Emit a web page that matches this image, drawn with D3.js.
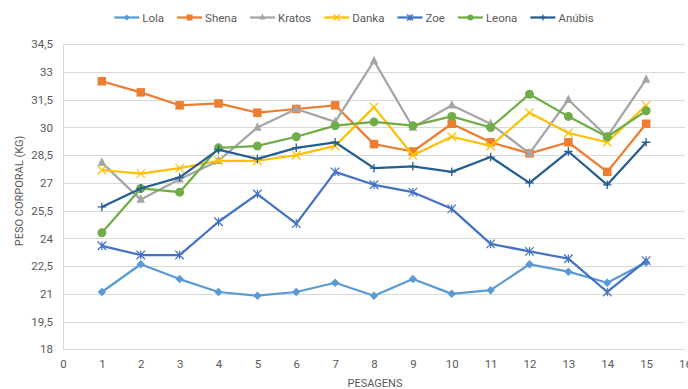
<!DOCTYPE html>
<html>
<head>
<meta charset="utf-8">
<script src="https://cdn.jsdelivr.net/npm/d3@7"></script>
<style>
  body { margin: 0; background: #fff; }
  svg text { font-family: Roboto, "Liberation Sans", sans-serif; fill: #595959; }
</style>
</head>
<body>
<script>
// Data
var pesagens = [1, 2, 3, 4, 5, 6, 7, 8, 9, 10, 11, 12, 13, 14, 15];
var names = ["Lola", "Shena", "Kratos", "Danka", "Zoe", "Leona", "Anúbis"];
var lola   = [21.1, 22.6, 21.8, 21.1, 20.9, 21.1, 21.6, 20.9, 21.8, 21.0, 21.2, 22.6, 22.2, 21.6, 22.7];
var shena  = [32.5, 31.9, 31.2, 31.3, 30.8, 31.0, 31.2, 29.1, 28.7, 30.2, 29.2, 28.6, 29.2, 27.6, 30.2];
var kratos = [28.1, 26.1, 27.2, 28.2, 30.0, 31.0, 30.3, 33.6, 30.0, 31.2, 30.2, 28.6, 31.5, 29.5, 32.6];
var danka  = [27.7, 27.5, 27.8, 28.2, 28.2, 28.5, 29.0, 31.1, 28.5, 29.5, 29.0, 30.8, 29.7, 29.2, 31.2];
var zoe    = [23.6, 23.1, 23.1, 24.9, 26.4, 24.8, 27.6, 26.9, 26.5, 25.6, 23.7, 23.3, 22.9, 21.1, 22.8];
var leona  = [24.3, 26.7, 26.5, 28.9, 29.0, 29.5, 30.1, 30.3, 30.1, 30.6, 30.0, 31.8, 30.6, 29.5, 30.9];
var anubis = [25.7, 26.7, 27.3, 28.8, 28.3, 28.9, 29.2, 27.8, 27.9, 27.6, 28.4, 27.0, 28.7, 26.9, 29.2];
var yTicks = [18, 19.5, 21, 22.5, 24, 25.5, 27, 28.5, 30, 31.5, 33, 34.5];
var xTicks = [0, 1, 2, 3, 4, 5, 6, 7, 8, 9, 10, 11, 12, 13, 14, 15, 16];

var colors = ["#5B9BD5", "#ED7D31", "#A5A5A5", "#FFC000", "#4472C4", "#70AD47", "#255E91"];
var shapes = ["diamond", "square", "triangle", "x", "asterisk", "circle", "plus"];
var values = [lola, shena, kratos, danka, zoe, leona, anubis];

var series = names.map(function(n, i) {
  return { name: n, color: colors[i], shape: shapes[i],
           points: pesagens.map(function(p, j) { return { x: p, y: values[i][j] }; }) };
});

var width = 688, height = 389;
var svg = d3.select("body").append("svg")
            .attr("width", width)
            .attr("height", height);

var x = d3.scaleLinear().domain([0, 16]).range([63, 685]);
var y = d3.scaleLinear().domain([18, 34.5]).range([349.3, 44.3]);

var fmt = function(d) { return String(d).replace(".", ","); };

// Gridlines
svg.append("g")
   .selectAll("line")
   .data(yTicks)
   .enter().append("line")
   .attr("x1", x(0)).attr("x2", x(16))
   .attr("y1", function(d) { return Math.round(y(d)) + 0.5; })
   .attr("y2", function(d) { return Math.round(y(d)) + 0.5; })
   .attr("stroke", "#D9D9D9")
   .attr("stroke-width", 1);

// Axis line
svg.append("line")
   .attr("x1", x(0) + 0.5).attr("x2", x(0) + 0.5)
   .attr("y1", y(34.5)).attr("y2", y(18))
   .attr("stroke", "#D9D9D9");

// Y axis
var yAxis = d3.axisLeft(y).tickValues(yTicks).tickFormat(fmt).tickSize(0).tickPadding(10);
var gy = svg.append("g").attr("transform", "translate(" + x(0) + ",0)").call(yAxis);
gy.select(".domain").remove();
gy.selectAll("text").attr("font-size", "11.5px").attr("fill", "#595959")
  .style("font-family", "Roboto, sans-serif");

// X axis
var xAxis = d3.axisBottom(x).tickValues(xTicks).tickFormat(d3.format("d")).tickSize(0).tickPadding(11);
var gx = svg.append("g").attr("transform", "translate(0," + y(18) + ")").call(xAxis);
gx.select(".domain").remove();
gx.selectAll("text").attr("font-size", "11.5px").attr("fill", "#595959")
  .style("font-family", "Roboto, sans-serif");

// Axis titles
svg.append("text")
   .attr("transform", "translate(23,191) rotate(-90)")
   .attr("text-anchor", "middle")
   .attr("font-size", "11px")
   .text("PESO CORPORAL (KG)");

svg.append("text")
   .attr("x", 375).attr("y", 387)
   .attr("text-anchor", "middle")
   .attr("font-size", "11px")
   .text("PESAGENS");

// Marker drawing
function drawMarker(g, shape, color, s) {
  var h = s / 2;
  if (shape === "diamond") {
    g.append("path").attr("d", "M0," + (-h) + "L" + h + ",0L0," + h + "L" + (-h) + ",0Z").attr("fill", color);
  } else if (shape === "square") {
    g.append("rect").attr("x", -h).attr("y", -h).attr("width", s).attr("height", s).attr("fill", color);
  } else if (shape === "triangle") {
    g.append("path").attr("d", "M0," + (-h - 1) + "L" + h + "," + (h - 1) + "L" + (-h) + "," + (h - 1) + "Z").attr("fill", color);
  } else if (shape === "circle") {
    g.append("circle").attr("r", h).attr("fill", color);
  } else if (shape === "x" || shape === "asterisk") {
    var d = "M" + (-h) + "," + (-h) + "L" + h + "," + h + "M" + (-h) + "," + h + "L" + h + "," + (-h);
    if (shape === "asterisk") d += "M0," + (-h) + "L0," + h;
    g.append("path").attr("d", d).attr("stroke", color).attr("stroke-width", 1.2).attr("fill", "none");
  } else if (shape === "plus") {
    g.append("path").attr("d", "M" + (-h) + ",0L" + h + ",0M0," + (-h) + "L0," + h)
     .attr("stroke", color).attr("stroke-width", 1.3).attr("fill", "none");
  }
}

var line = d3.line().x(function(d) { return x(d.x); }).y(function(d) { return y(d.y); });

series.forEach(function(s) {
  var g = svg.append("g");
  g.append("path")
   .datum(s.points)
   .attr("d", line)
   .attr("fill", "none")
   .attr("stroke", s.color)
   .attr("stroke-width", 2.25)
   .attr("stroke-linejoin", "round");
  g.selectAll("g.m")
   .data(s.points)
   .enter().append("g")
   .attr("class", "m")
   .attr("transform", function(d) { return "translate(" + x(d.x) + "," + y(d.y) + ")"; })
   .each(function() { drawMarker(d3.select(this), s.shape, s.color, s.shape === "circle" ? 9 : 8.5); });
});

// Legend
var legend = svg.append("g");
var items = legend.selectAll("g")
  .data(series)
  .enter().append("g");
items.append("line")
  .attr("x1", 0).attr("x2", 25).attr("y1", 0).attr("y2", 0)
  .attr("stroke", function(d) { return d.color; })
  .attr("stroke-width", 2.25);
items.each(function(d) {
  var m = d3.select(this).append("g").attr("transform", "translate(12.5,0)");
  drawMarker(m, d.shape, d.color, 6);
});
items.append("text")
  .attr("x", 28).attr("y", 4)
  .attr("font-size", "11.5px")
  .text(function(d) { return d.name; });

var gap = 13;
var cursor = 0, pos = [];
items.each(function() {
  var w = d3.select(this).select("text").node().getComputedTextLength();
  pos.push(cursor);
  cursor += 28 + w + gap;
});
var total = cursor - gap;
var startX = 354 - total / 2;
items.attr("transform", function(d, i) { return "translate(" + (startX + pos[i]) + ",17.5)"; });
</script>
</body>
</html>
